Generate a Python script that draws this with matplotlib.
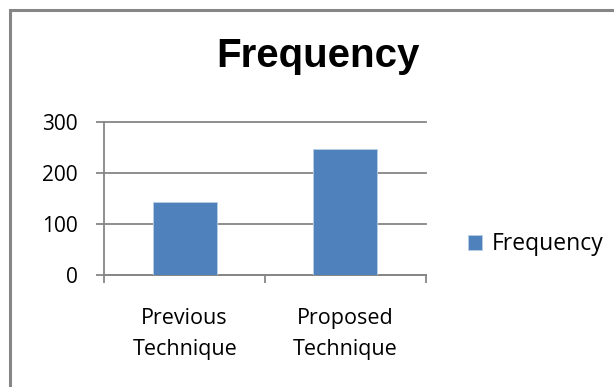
import matplotlib
matplotlib.use("Agg")
import matplotlib.pyplot as plt
from matplotlib.patches import Rectangle

categories = ["Previous\nTechnique", "Proposed\nTechnique"]
frequency = [144, 248]
series_name = "Frequency"
yticks = [0, 100, 200, 300]

bar_color = "#4F81BD"
line_color = "#868686"
label_font = ["Open Sans", "DejaVu Sans"]

fig = plt.figure(figsize=(6.14, 3.87), dpi=100)

# chart area frame (only left and top edges are visible)
fig.patches.append(Rectangle((9.5 / 614, -0.1), 1.2, 1 - 10 / 387 + 0.1,
                             transform=fig.transFigure, fill=False,
                             edgecolor=line_color, linewidth=2.2))

ax = fig.add_axes([0.170, 0.2894, 0.523, 0.3954])
x = range(len(categories))
ax.bar(x, frequency, width=0.4, color=bar_color, edgecolor="#B9CDE5",
       linewidth=0.6, zorder=3, label=series_name)

ax.set_xlim(-0.5, 1.5)
ax.set_ylim(0, 300)
ax.set_yticks(yticks)
ax.yaxis.grid(True, color=line_color, linewidth=1.3)
for gl in ax.get_ygridlines():
    gl.set_clip_on(False)
ax.set_axisbelow(True)

for s in ["top", "right"]:
    ax.spines[s].set_visible(False)
for s in ["left", "bottom"]:
    ax.spines[s].set_color(line_color)
    ax.spines[s].set_linewidth(1.3)

ax.tick_params(axis="y", length=6, width=1.3, color=line_color, pad=13,
               labelsize=15)
# category ticks sit on the boundaries between categories
ax.set_xticks([-0.5, 0.5, 1.5])
ax.set_xticklabels([])
ax.set_xticks(list(x), minor=True)
ax.set_xticklabels(categories, minor=True, fontsize=15.5, linespacing=1.6)
ax.tick_params(axis="x", which="major", length=6, width=1.3, color=line_color)
ax.tick_params(axis="x", which="minor", length=0, pad=24)
for lbl in ax.get_yticklabels() + ax.get_xticklabels(minor=True):
    lbl.set_family(label_font)
    lbl.set_color("#000000")

fig.text(0.518, 1 - 67 / 387, "Frequency", ha="center", va="baseline",
         fontsize=29, fontweight="bold",
         family=["Liberation Sans Narrow", "Liberation Sans"])

ax.legend(loc="center left", bbox_to_anchor=(1.105, 0.2), frameon=False,
          handlelength=0.6, handleheight=0.6, handletextpad=0.4,
          borderaxespad=0, prop={"family": label_font, "size": 16.5})

fig.savefig("out.png", dpi=100)
